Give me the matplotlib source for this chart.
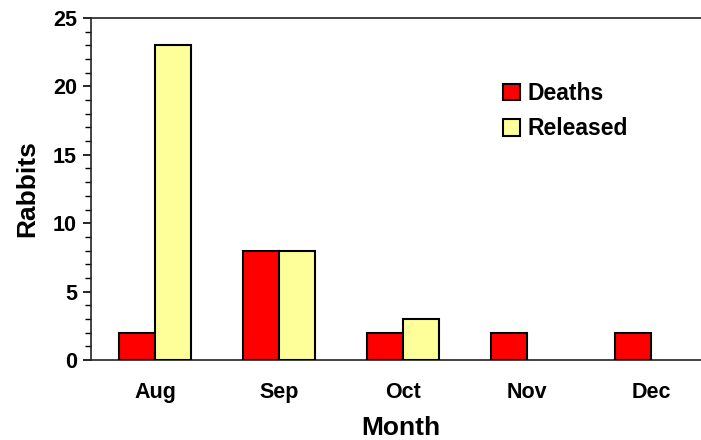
import matplotlib
matplotlib.use("Agg")
import matplotlib.pyplot as plt
from matplotlib.ticker import MultipleLocator
import numpy as np

months = ["Aug", "Sep", "Oct", "Nov", "Dec"]
deaths = [2, 8, 2, 2, 2]
released = [23, 8, 3, 0, 0]

plt.rcParams["font.family"] = ["Liberation Sans", "DejaVu Sans"]
plt.rcParams["font.weight"] = "bold"

fig = plt.figure(figsize=(7.01, 4.40), dpi=100)
W, H = 701, 440
# axes box in pixels: left 91, top 18, bottom 360, width extends past right edge
ax = fig.add_axes([91 / W, (H - 360) / H, 620 / W, (360 - 18) / H])

x = np.arange(len(months))
bw = 0.29
ax.bar(x - bw / 2, deaths, bw, color="#ff0000", edgecolor="black", linewidth=1.5,
       label="Deaths", zorder=3)
rel_x = [xi + bw / 2 for xi, v in zip(x, released) if v > 0]
rel_v = [v for v in released if v > 0]
ax.bar(rel_x, rel_v, bw, color="#ffff99", edgecolor="black", linewidth=1.5,
       label="Released", zorder=3)

ax.set_xlim(-0.516, 4.484)
ax.set_ylim(0, 25)
ax.yaxis.set_major_locator(MultipleLocator(5))
ax.yaxis.set_minor_locator(MultipleLocator(1))
ax.tick_params(axis="y", which="major", direction="out", length=6, width=1.2,
               labelsize=15.5, pad=4)
ax.tick_params(axis="y", which="minor", direction="out", length=4, width=1.0)
ax.tick_params(axis="x", length=0, labelsize=15.5, pad=16)
ax.set_xticks(x)
ax.set_xticklabels(months)
for lab in ax.get_xticklabels() + ax.get_yticklabels():
    lab.set_fontweight("bold")

ax.spines["right"].set_visible(False)
for side in ["left", "bottom", "top"]:
    ax.spines[side].set_linewidth(1.2)
    ax.spines[side].set_color("#222222")

ax.set_xlabel("Month", fontsize=19, fontweight="bold", labelpad=9)
ax.set_ylabel("Rabbits", fontsize=19, fontweight="bold", labelpad=10)

leg = ax.legend(loc="upper left", bbox_to_anchor=(0.649, 0.84), frameon=False,
                fontsize=16.5, handlelength=0.75, handleheight=0.75,
                handletextpad=0.35, labelspacing=0.55, borderaxespad=0)
for t in leg.get_texts():
    t.set_fontweight("bold")

fig.savefig("out.png", dpi=100)
